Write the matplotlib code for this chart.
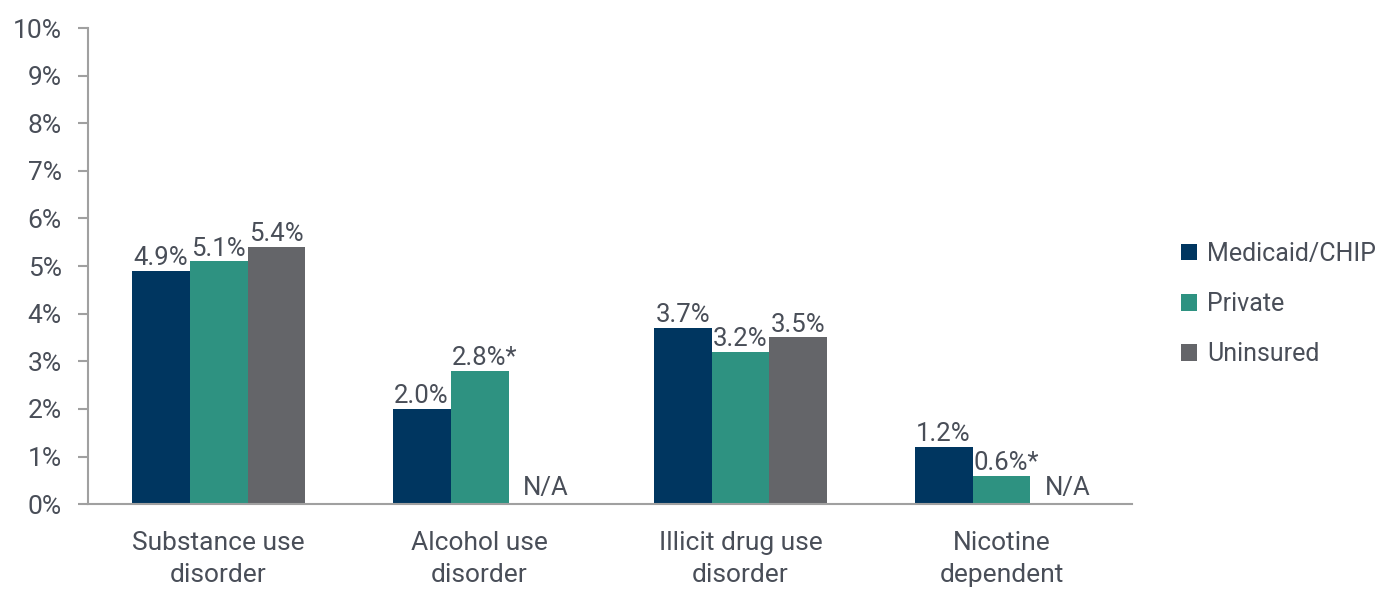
import numpy as np
import matplotlib
matplotlib.use("Agg")
import matplotlib.pyplot as plt

plt.rcParams['font.family'] = ['Roboto', 'DejaVu Sans']

categories = ["Substance use\ndisorder", "Alcohol use\ndisorder",
              "Illicit drug use\ndisorder", "Nicotine\ndependent"]
series_names = ["Medicaid/CHIP", "Private", "Uninsured"]
medicaid = [4.9, 2.0, 3.7, 1.2]
private = [5.1, 2.8, 3.2, 0.6]
uninsured = [5.4, np.nan, 3.5, np.nan]
flags = [["", "", "", ""], ["", "*", "", "*"], ["", "", "", ""]]
y_ticks = list(range(0, 11))

colors = ["#003660", "#2e9281", "#646569"]
text_color = "#494e58"
axis_color = "#a0a0a0"

fig = plt.figure(figsize=(13.8, 5.91), dpi=100)
ax = fig.add_axes([0.0638, 0.147, 0.7565, 0.8056])

x = np.arange(len(categories))
width = 0.222
series = [medicaid, private, uninsured]

for i, (vals, name, col) in enumerate(zip(series, series_names, colors)):
    pos = x + (i - 1) * width
    heights = [0 if np.isnan(v) else v for v in vals]
    ax.bar(pos, heights, width, color=col, label=name, edgecolor="none")
    for p, v, f in zip(pos, vals, flags[i]):
        if np.isnan(v):
            txt, yv, dx, dy = "N/A", 0, 6, 3
        else:
            # keep the number centred over the bar; the asterisk hangs off the right
            txt, yv, dx, dy = f"{v:.1f}%{f}", v, 3.5 if f else 0, 0.5
        ax.annotate(txt, (p, yv), xytext=(dx, dy), textcoords="offset points",
                    ha="center", va="bottom", fontsize=18.5, color=text_color)

ax.set_xlim(-0.5, len(categories) - 0.5)
ax.set_ylim(0, 10)
ax.set_yticks(y_ticks)
ax.set_yticklabels([f"{t}%" for t in y_ticks])
ax.set_xticks(x)
ax.set_xticklabels(categories, linespacing=1.45)

for s in ["top", "right"]:
    ax.spines[s].set_visible(False)
for s in ["left", "bottom"]:
    ax.spines[s].set_color(axis_color)
    ax.spines[s].set_linewidth(1.5)

ax.tick_params(axis="y", colors=axis_color, labelcolor=text_color,
               labelsize=19, length=7, width=1.5, pad=12)
ax.tick_params(axis="x", length=0, labelcolor=text_color, labelsize=19, pad=19)

leg = ax.legend(loc="center left", bbox_to_anchor=(1.025, 0.42), frameon=False,
                fontsize=18, handlelength=0.65, handleheight=0.65,
                handletextpad=0.4, labelspacing=1.05)
for t in leg.get_texts():
    t.set_color(text_color)

fig.savefig("out.png", dpi=100)
